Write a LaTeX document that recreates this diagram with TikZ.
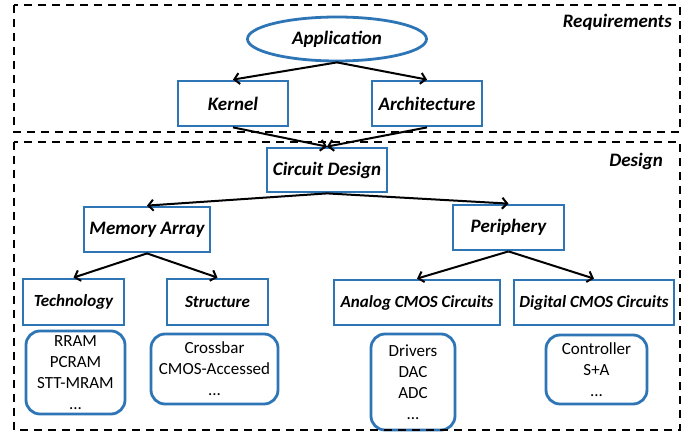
\documentclass[tikz,border=0pt]{standalone}
\usepackage{fontspec}
\setmainfont{Carlito}
\usepackage{tikz}
\usetikzlibrary{arrows.meta,shapes.geometric}
\definecolor{boxblue}{HTML}{2E75B6}
\tikzset{every node/.append style={align=center}}
\tikzset{
  block/.style={draw=boxblue, line width=2.8pt, fill=white, inner sep=0pt,
    font=\fontsize{19}{22}\selectfont\bfseries\itshape},
  subblock/.style={block, font=\fontsize{17}{20}\selectfont\bfseries\itshape},
  listbox/.style={draw=boxblue, line width=2.8pt, fill=white, rounded corners=14pt,
    inner sep=0pt, font=\fontsize{17}{21}\selectfont},
  zoneframe/.style={line width=2pt, dash pattern=on 8pt off 6pt},
  zonelabel/.style={anchor=east, inner sep=0pt, font=\fontsize{19}{22}\selectfont\bfseries\itshape},
  arr/.style={-{Straight Barb[length=5pt,width=11pt]}, line width=2pt}
}

\begin{document}
\begin{tikzpicture}[x=1pt,y=-1pt]
  \useasboundingbox (0,0) rectangle (686,433);
  % requirements level
  \node[ellipse, draw=boxblue, line width=2.8pt, inner sep=0pt, minimum width=179, minimum height=44,
    font=\fontsize{19}{22}\selectfont\bfseries\itshape] (app) at (337,39) {Application};
  \node[block, minimum width=110, minimum height=45] (kernel) at (233,103.5) {Kernel};
  \node[block, minimum width=110, minimum height=45] (arch) at (427,103.5) {Architecture};
  % design level
  \node[block, minimum width=120, minimum height=44] (circ) at (327,170) {Circuit Design};
  \node[block, minimum width=126, minimum height=45] (mem) at (147,229.5) {Memory Array};
  \node[block, minimum width=111, minimum height=45] (peri) at (508.5,227.5) {Periphery};
  \node[subblock, minimum width=101, minimum height=46] (tech) at (73.5,302) {Technology};
  \node[subblock, minimum width=101, minimum height=46] (struc) at (217.5,302) {Structure};
  \node[subblock, minimum width=166, minimum height=45] (analog) at (417,302.5) {Analog CMOS Circuits};
  \node[subblock, minimum width=160, minimum height=45] (digital) at (594,302.5) {Digital CMOS Circuits};
  % lists
  \node[listbox, minimum width=99, minimum height=83] (techlist) at (75.5,372.5) {RRAM\\PCRAM\\STT-MRAM\\...};
  \node[listbox, minimum width=127, minimum height=70] (struclist) at (214.5,369) {Crossbar\\CMOS-Accessed\\...};
  \node[listbox, minimum width=84, minimum height=96] (analoglist) at (413,382) {Drivers\\DAC\\ADC\\...};
  \node[listbox, minimum width=101, minimum height=69] (digitallist) at (596.5,369.5) {Controller\\S+A\\...};

  \foreach \from/\to in {app/kernel,app/arch,kernel/circ,arch/circ,circ/mem,circ/peri,
      mem/tech,mem/struc,peri/analog,peri/digital}
    \draw[arr] (\from.south) -- (\to.north);

  % zones
  \draw[zoneframe] (14,5) rectangle (680,132);
  \draw[zoneframe] (14,142) rectangle (680,430);
  \node[zonelabel] (req) at (672,22) {Requirements};
  \node[zonelabel] (des) at (663,161) {Design};
\end{tikzpicture}
\end{document}
